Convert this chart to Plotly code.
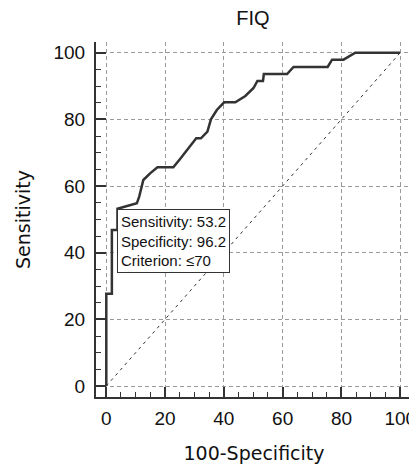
import plotly.graph_objects as go

# ROC curve points (100-Specificity, Sensitivity)
fpr = [0, 0, 1.9, 1.9, 3.8, 3.8, 10.4, 11.2, 12.6, 14.9, 17.4, 22.8, 25.1, 27.9,
       30.6, 32.2, 34.4, 35.6, 37.6, 40.1, 43.9, 47.3, 50.1, 51.4, 53.3, 53.6,
       61.5, 63.7, 75.3, 76.8, 80.7, 84.7, 100]
tpr = [0, 27.7, 27.7, 46.8, 46.8, 53.2, 54.8, 56.8, 61.8, 63.8, 65.6, 65.6, 68.1, 71.3,
       74.3, 74.3, 76.3, 80.0, 82.8, 85.1, 85.1, 87.0, 89.4, 91.5, 91.5, 93.6,
       93.6, 95.7, 95.7, 97.9, 97.9, 100, 100]
diag = [0, 100]
tickvals = [0, 20, 40, 60, 80, 100]
ticktext = ["0", "20", "40", "60", "80", "100"]
crit_x = [3.8]
crit_y = [53.2]
crit_text = "Sensitivity: 53.2<br>Specificity: 96.2<br>Criterion: \u226470"

FONT = "Liberation Sans, Arial"
TFONT = "DejaVu Sans, Liberation Sans"

# page body has an 8px default margin: figure is laid out 8px smaller
W, H = 409, 462

fig = go.Figure()
fig.add_trace(go.Scatter(x=diag, y=diag, mode="lines",
                         line=dict(color="#333333", width=1, dash="3px,4px"),
                         showlegend=False, hoverinfo="skip"))
fig.add_trace(go.Scatter(x=fpr, y=tpr, mode="lines",
                         line=dict(color="#333333", width=2.5),
                         showlegend=False))

fig.add_annotation(x=crit_x[0], y=crit_y[0], xref="x", yref="y",
                   text=crit_text, showarrow=False, xanchor="left", yanchor="top",
                   align="left", bgcolor="white", bordercolor="#333333", borderwidth=1,
                   borderpad=3, font=dict(family=FONT, size=15, color="#111111"))

axis_common = dict(
    automargin=False,
    showline=True, linecolor="#333333", linewidth=2, mirror=False,
    ticks="inside", ticklen=10, tickwidth=2, tickcolor="#333333",
    tickvals=tickvals, ticktext=ticktext,
    minor=dict(dtick=5, ticks="inside", ticklen=5, tickwidth=1, tickcolor="#333333", showgrid=False),
    showgrid=True, gridcolor="#9a9a9a", gridwidth=1, griddash="4px,3px",
    zeroline=False,
    tickfont=dict(family=FONT, size=19, color="#111111"),
    fixedrange=True,
)

fig.update_layout(
    width=W, height=H,
    margin=dict(l=88, r=5, t=34, b=73),
    paper_bgcolor="white", plot_bgcolor="white",
    title=dict(text="FIQ", x=245/W, xanchor="center", y=1-10/H, yanchor="middle",
               xref="container", yref="container",
               font=dict(family=FONT, size=20, color="#111111")),
    xaxis=dict(range=[-3.5, 104],
               title=dict(text="100-Specificity", standoff=19,
                          font=dict(family=TFONT, size=19, color="#111111")),
               ticklabelstandoff=3,
               **axis_common),
    yaxis=dict(range=[-3.3, 103.2],
               title=dict(text="Sensitivity", standoff=18,
                          font=dict(family=TFONT, size=19, color="#111111")),
               ticklabelstandoff=5,
               **axis_common),
)

fig.write_html("out.html")
